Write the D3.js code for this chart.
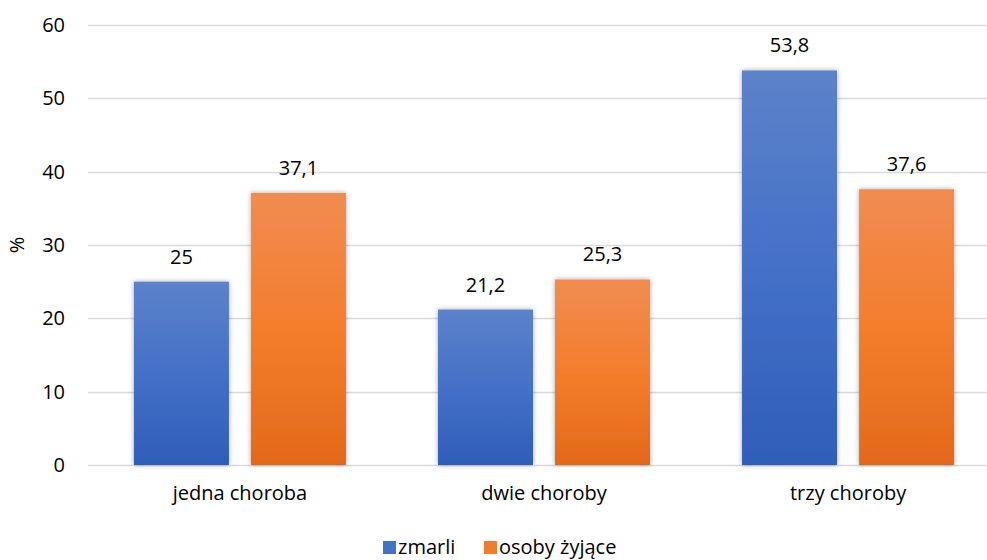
<!DOCTYPE html>
<html>
<head>
<meta charset="utf-8">
<script src="https://cdn.jsdelivr.net/npm/d3@7"></script>
<style>
  html, body { margin: 0; padding: 0; background: #fff; }
  svg { display: block; font-family: "Open Sans", Lato, "Liberation Sans", sans-serif; }
</style>
</head>
<body>
<svg id="chart" width="987" height="560"></svg>
<script>
// Chart data
const categories = ["jedna choroba", "dwie choroby", "trzy choroby"];
const seriesNames = ["zmarli", "osoby żyjące"];
const zmarli = [25, 21.2, 53.8];
const zyjace = [37.1, 25.3, 37.6];
const yTicks = [0, 10, 20, 30, 40, 50, 60];
const yLabel = "%";

const series = [
  { name: seriesNames[0], values: zmarli, grad: "gBlue", swatch: "#4472c4" },
  { name: seriesNames[1], values: zyjace, grad: "gOrange", swatch: "#ed7d31" }
];

const svg = d3.select("#chart");
const width = 987, height = 560;
const FS = 20;

// Plot area runs past the right edge of the canvas
const plotLeft = 88, plotRight = 1000, plotTop = 25, plotBottom = 465;

const x = d3.scaleBand().domain(categories)
  .range([plotLeft, plotRight]).paddingInner(0.3026).paddingOuter(0.151);
const xInner = d3.scaleBand().domain(seriesNames)
  .range([0, x.bandwidth()]).paddingInner(0.188);
const y = d3.scaleLinear().domain([0, 60]).range([plotBottom, plotTop]);

// Gradients and soft shadow
const defs = svg.append("defs");
function grad(id, stops) {
  const g = defs.append("linearGradient").attr("id", id)
    .attr("x1", 0).attr("y1", 0).attr("x2", 0).attr("y2", 1);
  stops.forEach(s => g.append("stop").attr("offset", s[0]).attr("stop-color", s[1]));
}
grad("gBlue", [[0, "#5c82c9"], [0.5, "#4470c8"], [1, "#2e5eb8"]]);
grad("gOrange", [[0, "#f08c51"], [0.5, "#f47d2d"], [1, "#e2691a"]]);
const f = defs.append("filter").attr("id", "shadow")
  .attr("x", "-20%").attr("y", "-10%").attr("width", "140%").attr("height", "120%");
f.append("feDropShadow").attr("dx", 0).attr("dy", 0).attr("stdDeviation", 2.5)
  .attr("flood-color", "#000").attr("flood-opacity", 0.35);

// Gridlines
svg.append("g").selectAll("line").data(yTicks).join("line")
  .attr("x1", plotLeft).attr("x2", width)
  .attr("y1", d => Math.round(y(d)) + 0.5).attr("y2", d => Math.round(y(d)) + 0.5)
  .attr("stroke", "#d9d9d9").attr("stroke-width", 1.3);

// Y axis labels
const yAxis = d3.axisLeft(y).tickValues(yTicks).tickSize(0).tickPadding(0);
const ya = svg.append("g").attr("transform", `translate(65,0)`).call(yAxis);
ya.select(".domain").remove();
ya.selectAll("text").attr("font-size", FS).attr("fill", "#000")
  .attr("font-family", "'Open Sans', Lato, sans-serif");

svg.append("text").attr("transform", `translate(24,${y(30)}) rotate(-90)`)
  .attr("text-anchor", "middle").attr("font-size", FS).text(yLabel);

// Bars
series.forEach(s => {
  const g = svg.append("g");
  g.selectAll("rect").data(s.values).join("rect")
    .attr("x", (d, i) => x(categories[i]) + xInner(s.name))
    .attr("y", d => y(d))
    .attr("width", xInner.bandwidth())
    .attr("height", d => y(0) - y(d))
    .attr("fill", `url(#${s.grad})`)
    .attr("filter", "url(#shadow)");
  g.selectAll("text").data(s.values).join("text")
    .attr("x", (d, i) => x(categories[i]) + xInner(s.name) + xInner.bandwidth() / 2)
    .attr("y", d => y(d) - 18)
    .attr("text-anchor", "middle").attr("font-size", FS).attr("fill", "#000")
    .text(d => String(d).replace(".", ","));
});

// X axis labels
const xAxis = d3.axisBottom(x).tickSize(0).tickPadding(0);
const xa = svg.append("g").attr("transform", `translate(0,${y(0) + 21})`).call(xAxis);
xa.select(".domain").remove();
xa.selectAll("text").attr("font-size", FS).attr("fill", "#000")
  .attr("font-family", "'Open Sans', Lato, sans-serif");

// Legend
const legend = svg.append("g");
const legendX = [383, 484];
series.forEach((s, i) => {
  legend.append("rect").attr("x", legendX[i]).attr("y", 541).attr("width", 13).attr("height", 13)
    .attr("fill", s.swatch);
  legend.append("text").attr("x", legendX[i] + 15).attr("y", 554).attr("font-size", FS)
    .text(s.name);
});
</script>
</body>
</html>
